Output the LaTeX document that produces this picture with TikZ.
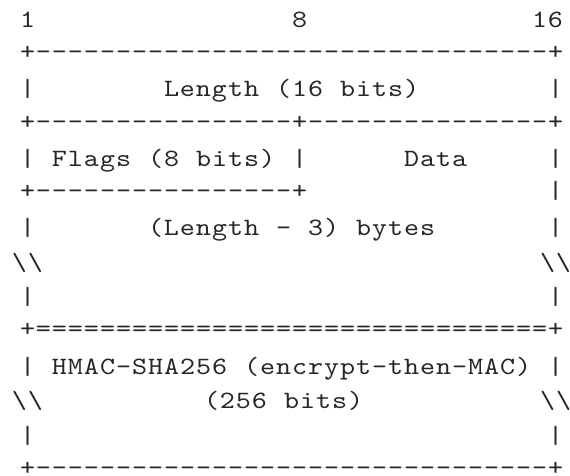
\documentclass[tikz,border=0pt]{standalone}
\usepackage{fontspec}
\newfontfamily\lmmono{lmmono10-regular.otf}[FakeStretch=1.15,LetterSpace=3.9]
\newlength{\cellw}\setlength{\cellw}{16pt}
\newlength{\lsp}\setlength{\lsp}{0.971pt}
\newcommand{\gp}[1]{\kern\dimexpr#1\cellw+\lsp\relax}
\newcommand{\bsl}{\textbackslash}
\begin{document}
\begin{tikzpicture}[x=1pt,y=1pt,
  row/.style={anchor=base west,inner sep=0pt,outer sep=0pt,text=black!85,
    font=\lmmono\fontsize{24.9pt}{30pt}\selectfont}]
\fill[white] (0,0) rectangle (570,476);
\useasboundingbox (0,0) rectangle (570,476);
\def\rb#1{476-27.7-(#1-1)*34.64}
\def\rp#1{476-27.7-(#1-1)*34.64+2.5}
\def\xa{20}
\def\xb{12}
\node[row] (l1)  at (\xa,{\rb{1}})  {1\gp{16}8\gp{14}16};
\node[row] (l2)  at (\xa,{\rp{2}})  {+--------------------------------+};
\node[row] (l3)  at (\xa,{\rb{3}})  {|\gp{8}Length\gp{1}(16\gp{1}bits)\gp{8}|};
\node[row] (l4)  at (\xa,{\rp{4}})  {+----------------+---------------+};
\node[row] (l5)  at (\xa,{\rb{5}})  {|\gp{1}Flags\gp{1}(8\gp{1}bits)\gp{1}|\gp{6}Data\gp{5}|};
\node[row] (l6)  at (\xa,{\rp{6}})  {+----------------+\gp{15}|};
\node[row] (l7)  at (\xa,{\rb{7}})  {|\gp{7}(Length\gp{1}-\gp{1}3)\gp{1}bytes\gp{7}|};
\node[row] (l8)  at (\xb,{\rb{8}})  {\bsl\bsl\gp{31}\bsl\bsl};
\node[row] (l9)  at (\xa,{\rb{9}})  {|\gp{32}|};
\node[row] (l10) at (\xa,{\rp{10}}) {+================================+};
\node[row] (l11) at (\xa,{\rb{11}}) {|\gp{1}HMAC-SHA256\gp{1}(encrypt-then-MAC)\gp{1}|};
\node[row] (l12) at (\xb,{\rb{12}}) {\bsl\bsl\gp{10}(256\gp{1}bits)\gp{11}\bsl\bsl};
\node[row] (l13) at (\xa,{\rb{13}}) {|\gp{32}|};
\node[row] (l14) at (\xa,{\rp{14}}) {+--------------------------------+};
\end{tikzpicture}
\end{document}
